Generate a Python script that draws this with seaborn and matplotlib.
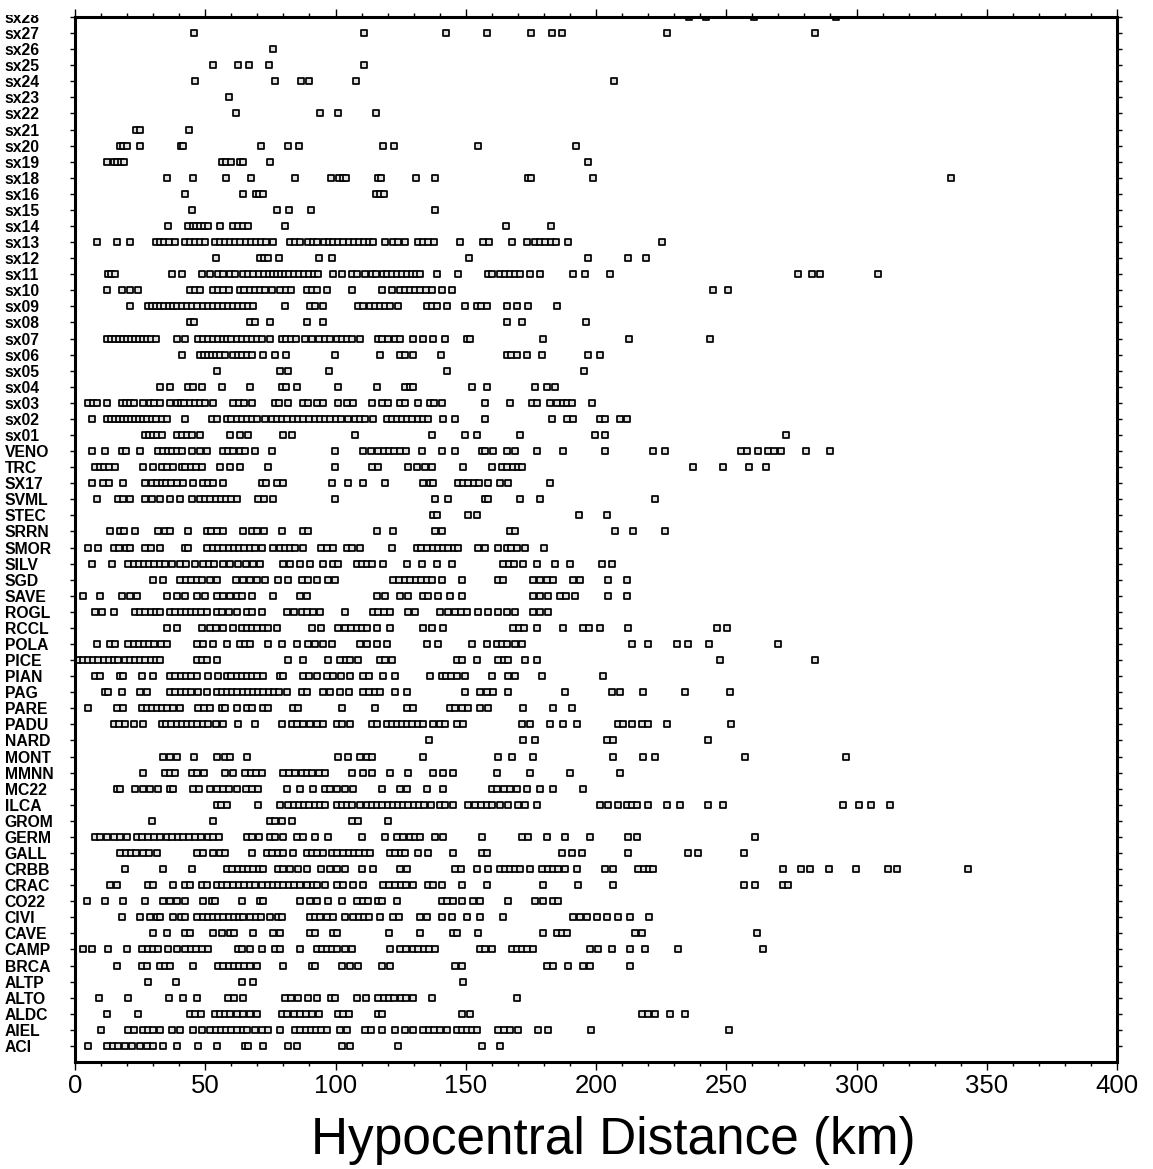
import matplotlib
matplotlib.use("Agg")
import matplotlib.pyplot as plt
from matplotlib.ticker import MultipleLocator
from matplotlib.transforms import Bbox
import seaborn as sns
import pandas as pd

# ---------------- data (hypocentral distance, km) ----------------
stations = ["ACI", "AIEL", "ALDC", "ALTO", "ALTP", "BRCA", "CAMP", "CAVE", "CIVI", "CO22",
            "CRAC", "CRBB", "GALL", "GERM", "GROM", "ILCA", "MC22", "MMNN", "MONT", "NARD",
            "PADU", "PARE", "PAG", "PIAN", "PICE", "POLA", "RCCL", "ROGL", "SAVE", "SGD",
            "SILV", "SMOR", "SRRN", "STEC", "SVML", "SX17", "TRC", "VENO",
            "sx01", "sx02", "sx03", "sx04", "sx05", "sx06", "sx07", "sx08", "sx09", "sx10",
            "sx11", "sx12", "sx13", "sx14", "sx15", "sx16", "sx18", "sx19", "sx20", "sx21",
            "sx22", "sx23", "sx24", "sx25", "sx26", "sx27", "sx28"]

d_ACI = [5.1, 12.2, 14.5, 16.5, 19.2, 22.0, 24.8, 27.5, 30.0, 33.9, 39.0, 47.3, 54.4, 65.3, 66.5,
         72.3, 81.9, 85.1, 102.4, 105.6, 124.0, 156.1, 163.2]
d_AIEL = [10.0, 20.5, 22.5, 26.2, 28.2, 30.0, 32.6, 37.1, 40.3, 45.4, 48.6, 51.8, 54.0, 56.0, 58.0,
          60.0, 62.0, 64.6, 65.9, 69.1, 71.6, 74.2, 78.7, 84.4, 86.5, 88.5, 90.5, 92.5, 94.6, 96.6,
          101.7, 104.3, 111.3, 113.5, 117.7, 122.8, 126.7, 129.9, 133.7, 136.0, 138.0, 140.0, 142.7,
          146.5, 148.5, 150.5, 152.5, 154.2, 162.5, 164.5, 167.0, 170.2, 177.8, 181.7, 198.0, 251.2]
d_ALDC = [12.2, 24.3, 44.1, 46.0, 48.5, 53.8, 55.5, 57.5, 59.5, 62.0, 64.6, 67.0, 69.7, 79.3, 81.5,
          84.0, 86.4, 88.5, 91.0, 93.5, 101.0, 103.0, 105.0, 116.4, 117.7, 148.4, 151.6, 217.5,
          220.1, 222.6, 228.4, 234.2]
d_ALTO = [9.3, 20.2, 36.2, 41.6, 47.0, 58.8, 61.0, 64.6, 80.6, 83.0, 85.7, 89.6, 92.8, 98.3, 99.8,
          108.1, 111.9, 116.4, 118.5, 120.5, 122.5, 125.0, 127.0, 129.9, 136.9, 169.5]
d_ALTP = [27.9, 38.8, 64.0, 68.5, 149.1]
d_BRCA = [16.0, 25.6, 27.5, 32.6, 34.5, 36.5, 45.4, 55.0, 57.0, 59.0, 61.0, 63.0, 65.0, 67.2, 69.7,
          80.0, 90.8, 92.0, 102.4, 105.6, 108.8, 117.7, 120.9, 145.9, 148.4, 181.1, 183.6, 189.4,
          195.1, 197.7, 213.1]
d_CAMP = [3.2, 6.4, 12.8, 19.8, 25.6, 28.0, 30.0, 32.0, 35.8, 39.0, 42.2, 44.5, 46.5, 48.6, 51.2,
          62.5, 64.0, 67.2, 71.6, 76.8, 78.7, 86.4, 92.8, 95.0, 96.6, 98.5, 100.4, 103.6, 106.2,
          120.9, 124.8, 127.0, 129.9, 131.8, 134.0, 136.0, 138.2, 155.4, 157.5, 160.0, 167.6, 169.5,
          171.5, 173.5, 176.0, 197.7, 200.9, 206.0, 213.1, 218.8, 231.6, 264.1]
d_CAVE = [30.1, 35.2, 42.2, 44.0, 53.1, 56.3, 59.5, 61.0, 68.5, 76.1, 78.7, 90.2, 92.0, 99.2, 100.4,
          120.5, 132.4, 145.2, 146.5, 154.6, 179.5, 184.9, 187.0, 188.7, 215.0, 217.5, 261.8]
d_CIVI = [17.9, 25.0, 28.8, 31.5, 32.6, 37.7, 40.5, 42.2, 46.7, 49.0, 51.0, 53.0, 55.0, 57.0, 59.0,
          61.0, 63.0, 64.6, 67.2, 69.5, 71.5, 74.8, 78.0, 79.3, 90.2, 92.0, 94.0, 96.6, 99.2, 103.6,
          106.8, 109.0, 111.0, 112.8, 117.0, 122.2, 124.5, 132.4, 135.0, 140.8, 144.6, 150.3, 155.4,
          164.4, 191.3, 194.0, 196.4, 200.2, 204.1, 208.6, 213.1, 220.5]
d_CO22 = [4.5, 11.5, 18.5, 26.9, 33.9, 36.5, 39.0, 42.2, 49.3, 52.5, 53.8, 64.0, 71.0, 72.3, 86.4,
          90.2, 92.8, 97.2, 102.4, 108.1, 110.5, 112.5, 116.5, 117.7, 123.5, 140.8, 142.8, 145.2,
          148.4, 152.9, 155.5, 166.4, 176.6, 179.8, 183.6, 185.5]
d_CRAC = [13.4, 16.0, 28.2, 30.0, 37.7, 42.2, 44.0, 48.6, 50.5, 54.4, 56.3, 58.2, 60.8, 63.0, 65.0,
          67.0, 69.0, 71.6, 74.2, 76.0, 78.0, 80.0, 82.0, 84.0, 86.4, 88.9, 91.5, 92.8, 96.0, 100.4,
          103.0, 106.8, 110.6, 118.4, 120.5, 123.0, 125.0, 127.0, 129.9, 135.6, 137.6, 140.8, 148.4,
          158.0, 179.8, 193.2, 206.7, 256.8, 261.0, 271.8, 273.7]
d_CRBB = [19.2, 33.9, 44.8, 58.2, 60.3, 62.5, 64.5, 66.5, 68.5, 70.5, 72.3, 78.0, 80.0, 82.5, 85.5,
          88.9, 94.6, 97.9, 100.5, 103.6, 110.0, 114.5, 124.8, 127.3, 145.9, 148.0, 154.2, 158.7,
          163.0, 165.0, 167.0, 169.0, 171.0, 174.7, 179.1, 181.7, 183.5, 185.5, 188.1, 192.6, 203.5,
          206.7, 216.3, 218.5, 220.5, 222.0, 271.8, 278.7, 282.2, 289.4, 299.8, 312.1, 315.5, 342.8]
d_GALL = [17.3, 19.5, 21.5, 23.5, 26.0, 28.5, 31.3, 46.7, 49.3, 53.1, 55.6, 57.5, 67.8, 73.6, 75.5,
          78.0, 80.0, 83.8, 88.9, 91.0, 93.0, 95.3, 98.5, 100.5, 103.0, 105.0, 107.0, 109.0, 111.5,
          113.2, 120.9, 123.0, 125.0, 126.8, 131.8, 135.6, 145.2, 156.1, 158.0, 186.8, 190.7, 194.5,
          212.4, 235.4, 239.3, 256.8]
d_GERM = [7.7, 9.5, 12.2, 14.8, 17.3, 19.8, 23.7, 25.6, 28.2, 30.3, 32.5, 35.5, 37.1, 39.5, 41.5,
          43.8, 46.0, 48.5, 51.0, 53.0, 55.3, 65.9, 68.0, 70.5, 74.8, 76.8, 79.9, 85.1, 87.6, 92.1,
          97.2, 110.0, 119.0, 123.5, 126.0, 128.6, 130.5, 132.4, 138.2, 141.4, 156.1, 171.5, 174.0,
          181.1, 188.1, 197.7, 212.4, 215.6, 261.0]
d_GROM = [29.4, 52.8, 74.8, 76.8, 79.3, 83.2, 106.2, 108.8, 120.3]
d_ILCA = [54.4, 56.0, 58.2, 70.4, 78.7, 81.9, 84.0, 86.0, 88.0, 90.0, 92.0, 94.0, 96.0, 100.5, 102.5,
          104.5, 106.5, 109.4, 112.0, 114.0, 116.0, 118.0, 120.0, 122.0, 124.0, 126.0, 128.0, 130.0,
          132.0, 134.0, 136.5, 140.1, 142.0, 145.2, 151.0, 153.5, 156.0, 158.0, 160.0, 163.2, 166.4,
          170.2, 172.8, 177.2, 201.5, 204.7, 208.6, 211.8, 214.0, 215.6, 220.1, 227.1, 232.2, 243.1,
          248.9, 294.8, 300.9, 305.6, 312.9]
d_MC22 = [16.0, 17.3, 23.0, 26.2, 28.8, 32.0, 36.5, 37.7, 45.4, 47.5, 51.8, 54.4, 57.0, 59.0, 62.0,
          65.5, 67.8, 70.4, 81.2, 86.4, 91.5, 96.0, 98.0, 100.4, 103.6, 106.8, 117.7, 124.8, 127.3,
          135.0, 141.4, 160.0, 162.0, 164.5, 167.0, 169.5, 173.4, 178.5, 183.6, 195.1]
d_MMNN = [26.2, 34.5, 36.5, 38.5, 44.8, 47.0, 49.5, 57.5, 60.8, 65.3, 67.5, 69.5, 71.6, 79.9, 82.0,
          84.5, 87.0, 89.0, 91.0, 93.5, 95.9, 106.2, 110.6, 113.9, 120.9, 127.9, 137.6, 141.4, 145.2,
          161.9, 174.7, 190.0, 209.2]
d_MONT = [33.9, 36.5, 39.0, 45.7, 54.4, 57.5, 59.5, 65.9, 101.0, 104.9, 109.4, 112.0, 113.9, 133.7,
          162.5, 167.6, 176.0, 206.7, 218.2, 222.7, 257.2, 296.0]
d_NARD = [136.0, 172.1, 176.6, 204.1, 206.6, 243.1]
d_PADU = [14.8, 17.0, 19.3, 22.5, 26.2, 33.3, 35.0, 37.0, 39.0, 41.0, 43.0, 45.0, 47.0, 49.0, 51.0,
          54.0, 57.0, 62.7, 69.1, 79.3, 83.2, 85.3, 87.5, 90.2, 92.8, 95.3, 100.4, 102.5, 105.6,
          113.9, 115.8, 119.6, 121.5, 123.5, 125.5, 127.5, 129.5, 131.5, 133.5, 137.6, 140.0, 142.0,
          146.5, 149.0, 171.5, 174.7, 182.4, 187.5, 192.6, 208.6, 210.5, 213.7, 217.5, 220.1, 227.1,
          251.8]
d_PARE = [5.1, 16.0, 18.5, 25.6, 27.5, 29.5, 31.5, 33.5, 35.5, 37.5, 40.3, 47.3, 49.5, 51.8, 56.3,
          57.5, 62.0, 65.9, 67.8, 72.3, 74.2, 83.8, 85.7, 102.4, 115.2, 127.3, 129.9, 144.0, 146.0,
          148.5, 151.0, 155.4, 158.7, 172.1, 183.6, 190.7]
d_PAG = [11.5, 12.8, 17.9, 25.0, 27.5, 36.5, 38.5, 40.5, 42.5, 44.5, 47.3, 50.5, 54.4, 56.3, 58.3,
         60.3, 62.3, 64.3, 66.3, 68.3, 70.3, 72.3, 74.3, 76.3, 78.5, 81.2, 87.0, 89.0, 95.3, 97.9,
         101.7, 105.0, 110.6, 113.0, 115.0, 117.0, 122.8, 127.3, 149.7, 155.4, 158.0, 160.6, 166.4,
         188.1, 206.0, 209.2, 218.2, 234.2, 251.4]
d_PIAN = [7.7, 9.6, 17.3, 18.5, 25.6, 30.0, 36.5, 38.5, 40.5, 42.5, 44.5, 46.7, 51.2, 55.0, 58.2,
          60.0, 62.0, 64.0, 66.0, 68.0, 70.0, 72.0, 78.7, 80.0, 87.6, 90.0, 92.8, 96.6, 99.0, 102.0,
          105.6, 110.6, 113.0, 118.4, 122.8, 136.3, 140.8, 142.5, 144.5, 146.5, 149.7, 160.0, 166.4,
          168.9, 179.1, 202.8]
d_PICE = [1.3, 3.0, 5.0, 7.0, 9.0, 11.0, 13.0, 15.0, 16.5, 19.2, 21.1, 23.0, 25.0, 27.0, 29.0, 31.0,
          32.6, 46.7, 48.6, 50.5, 54.4, 81.9, 87.6, 97.2, 101.7, 104.0, 105.6, 108.8, 117.0, 119.0,
          121.5, 146.5, 148.5, 154.2, 162.5, 164.5, 166.4, 172.8, 177.2, 247.6, 284.2]
d_POLA = [8.3, 13.4, 15.4, 20.5, 22.5, 24.5, 26.5, 28.5, 30.5, 33.0, 35.2, 46.7, 49.0, 53.1, 58.2,
          63.3, 65.2, 67.2, 74.2, 79.3, 85.1, 89.6, 92.0, 95.3, 98.5, 109.4, 112.0, 115.8, 119.6,
          135.0, 139.5, 152.3, 158.0, 161.9, 164.0, 166.0, 168.9, 171.5, 213.7, 220.1, 231.0, 235.4,
          243.5, 270.0]
d_RCCL = [35.2, 39.0, 48.6, 51.8, 54.0, 57.0, 60.8, 64.0, 66.0, 68.0, 70.0, 72.0, 74.0, 77.4, 90.8,
          94.6, 101.1, 103.5, 106.0, 108.1, 110.2, 112.0, 115.8, 121.0, 133.7, 136.9, 141.4, 168.3,
          170.5, 172.5, 177.2, 187.5, 195.1, 197.5, 201.5, 212.4, 246.3, 250.2]
d_ROGL = [7.7, 10.2, 14.8, 23.0, 25.0, 27.0, 29.0, 31.0, 32.6, 36.5, 38.5, 40.5, 42.5, 44.5, 46.5,
          48.5, 50.5, 54.4, 56.3, 59.0, 62.0, 65.9, 67.8, 71.6, 81.2, 84.0, 87.0, 89.0, 91.5, 94.0,
          103.6, 114.5, 116.5, 118.5, 120.8, 128.0, 130.5, 140.1, 143.3, 146.0, 148.0, 150.3, 154.8,
          158.7, 162.5, 165.7, 168.9, 176.0, 178.5, 181.7]
d_SAVE = [3.2, 9.6, 17.9, 21.1, 23.7, 35.2, 39.0, 42.2, 46.7, 49.9, 54.4, 57.0, 59.5, 62.0, 64.0,
          67.8, 76.1, 86.4, 89.0, 115.8, 119.0, 124.8, 127.9, 133.7, 135.6, 139.5, 144.0, 148.4,
          176.0, 178.5, 181.7, 186.2, 188.5, 191.9, 204.7, 211.8]
d_SGD = [30.0, 33.9, 40.3, 42.5, 44.5, 46.7, 48.6, 52.0, 54.5, 61.9, 64.5, 67.0, 69.8, 72.9, 78.0,
         81.9, 87.0, 89.6, 92.8, 97.2, 99.8, 122.2, 124.5, 126.8, 128.6, 131.0, 133.0, 135.0, 136.9,
         140.8, 148.4, 162.5, 164.4, 176.0, 178.5, 181.1, 183.6, 191.3, 193.8, 204.7, 211.8]
d_SILV = [6.4, 14.1, 20.5, 22.5, 24.5, 26.5, 28.5, 30.5, 32.5, 34.5, 37.1, 40.3, 42.5, 46.1, 49.3,
          51.5, 53.5, 56.9, 59.5, 62.5, 65.5, 68.5, 71.0, 80.0, 82.5, 86.4, 90.2, 95.3, 99.2, 101.1,
          108.1, 110.0, 112.0, 114.0, 118.4, 127.6, 133.1, 138.8, 144.6, 164.4, 166.5, 168.5, 172.1,
          177.2, 184.3, 190.0, 202.2, 206.0]
d_SMOR = [5.1, 8.9, 14.8, 17.0, 19.5, 21.1, 26.9, 29.0, 32.6, 42.2, 43.5, 50.5, 53.1, 55.0, 57.0,
          59.0, 61.0, 63.0, 65.0, 67.0, 69.0, 71.6, 76.1, 78.7, 80.5, 82.5, 84.5, 87.6, 94.6, 96.6,
          99.2, 104.3, 106.5, 109.4, 121.6, 131.2, 133.0, 135.0, 137.6, 139.5, 141.4, 143.3, 145.3,
          147.2, 154.8, 157.4, 162.5, 165.7, 167.5, 169.5, 172.8, 180.0]
d_SRRN = [13.4, 17.3, 19.0, 23.0, 32.0, 34.5, 36.5, 43.5, 50.5, 52.3, 54.5, 56.9, 64.6, 67.8, 70.0,
          72.5, 79.3, 87.6, 89.5, 115.8, 122.2, 138.2, 140.8, 167.0, 168.9, 207.3, 214.3, 226.5]
d_STEC = [137.6, 138.8, 151.0, 154.2, 193.5, 204.4]
d_SVML = [8.3, 16.6, 18.5, 21.1, 26.9, 29.4, 32.6, 36.5, 40.3, 44.8, 48.0, 50.0, 52.0, 54.0, 56.0,
          58.0, 60.0, 62.0, 70.4, 72.5, 76.1, 99.8, 138.2, 143.3, 157.4, 158.7, 170.8, 178.5, 222.6]
d_SX17 = [6.4, 10.8, 13.0, 18.5, 26.9, 29.5, 31.3, 33.3, 35.0, 37.0, 39.0, 41.5, 45.2, 49.2, 51.0,
          53.0, 56.9, 71.6, 73.5, 77.5, 79.9, 98.5, 104.9, 110.6, 118.9, 133.7, 136.3, 137.6, 147.2,
          149.0, 151.0, 153.0, 155.0, 158.7, 163.2, 166.4, 182.3]
d_TRC = [7.7, 9.5, 11.3, 13.1, 15.3, 26.2, 30.1, 33.3, 35.5, 37.5, 40.9, 42.2, 44.5, 46.5, 48.6,
         55.6, 59.5, 63.3, 74.2, 99.8, 113.9, 116.4, 128.0, 131.2, 134.4, 137.0, 149.1, 160.0,
         163.8, 166.0, 168.0, 170.2, 171.5, 237.1, 248.6, 258.8, 265.3]
d_VENO = [6.4, 11.5, 17.9, 19.5, 25.1, 32.0, 33.8, 35.6, 37.4, 39.2, 41.0, 44.8, 48.0, 50.5, 56.9,
          58.8, 60.8, 63.5, 65.3, 69.1, 75.5, 99.8, 110.6, 113.5, 116.4, 118.5, 120.5, 122.5, 124.8,
          127.0, 133.1, 140.8, 145.9, 156.1, 157.5, 160.6, 165.7, 168.9, 177.2, 187.5, 203.5, 222.0,
          226.5, 255.5, 258.0, 262.0, 266.0, 268.5, 271.0, 280.5, 290.0]
d_sx01 = [26.9, 28.5, 30.0, 31.5, 33.5, 39.0, 41.0, 43.0, 45.0, 47.9, 59.5, 63.5, 66.5, 80.0, 83.2,
          107.5, 136.9, 149.7, 154.2, 170.8, 199.6, 203.5, 272.9]
d_sx02 = [6.4, 12.2, 14.0, 15.5, 17.0, 18.5, 20.0, 21.5, 23.0, 24.5, 26.0, 27.5, 29.5, 31.0, 33.5,
          35.2, 42.2, 52.5, 54.4, 58.2, 60.0, 62.0, 64.0, 66.0, 68.0, 70.0, 72.9, 75.5, 77.5, 79.5,
          81.5, 83.5, 85.5, 87.6, 90.0, 92.0, 94.0, 96.0, 98.0, 100.0, 102.0, 104.9, 107.5, 109.5,
          111.5, 114.5, 119.6, 121.5, 123.5, 125.5, 127.5, 129.5, 131.5, 133.5, 135.6, 141.4, 145.9,
          157.4, 183.0, 188.7, 191.3, 201.5, 203.5, 209.2, 212.0]
d_sx03 = [5.1, 7.0, 8.5, 12.2, 17.9, 19.5, 21.0, 22.5, 26.2, 28.8, 30.5, 32.5, 36.4, 39.0, 40.5,
          42.0, 44.0, 46.0, 48.0, 50.0, 53.1, 60.8, 63.0, 65.0, 67.8, 76.8, 78.5, 81.9, 87.6, 89.5,
          93.0, 95.3, 101.1, 104.3, 106.8, 113.9, 117.7, 120.0, 124.8, 126.5, 131.8, 136.3, 138.0,
          140.8, 157.4, 167.0, 175.3, 177.2, 182.4, 185.0, 187.5, 189.0, 190.7, 198.3]
d_sx04 = [32.6, 36.5, 43.5, 45.3, 48.6, 56.3, 67.2, 79.3, 81.0, 85.1, 101.1, 116.1, 126.7, 128.5,
          129.9, 152.3, 158.0, 176.6, 181.1, 184.3]
d_sx05 = [54.4, 78.6, 81.6, 97.6, 142.7, 195.5]
d_sx06 = [41.0, 48.0, 49.5, 51.0, 52.5, 54.0, 55.5, 57.5, 60.8, 62.5, 64.2, 66.0, 67.8, 72.3, 76.8,
          81.0, 99.8, 117.0, 124.8, 126.5, 129.9, 140.4, 165.7, 167.5, 169.5, 173.4, 179.1, 197.1,
          201.5]
d_sx07 = [12.2, 13.8, 15.5, 17.0, 18.5, 20.0, 21.5, 23.0, 24.5, 26.0, 27.5, 29.0, 31.0, 39.0, 42.2,
          47.3, 49.0, 51.0, 53.0, 55.0, 57.0, 58.5, 60.0, 62.0, 64.0, 66.0, 68.0, 69.7, 71.6, 74.8,
          79.3, 81.0, 83.0, 85.0, 88.3, 90.8, 93.5, 96.0, 98.0, 100.5, 102.5, 104.5, 106.5, 109.4,
          116.4, 118.0, 120.0, 122.7, 124.8, 129.9, 133.7, 137.6, 142.0, 150.5, 151.8, 179.5, 212.8,
          243.8]
d_sx08 = [44.3, 45.5, 67.2, 69.1, 74.8, 88.9, 95.3, 165.7, 171.5, 196.0]
d_sx09 = [21.1, 28.2, 29.5, 31.0, 32.5, 34.0, 36.0, 37.5, 39.0, 41.0, 43.0, 45.0, 47.0, 49.0, 51.0,
          53.0, 55.0, 57.0, 58.8, 60.5, 62.5, 64.5, 66.5, 68.5, 80.6, 90.2, 92.0, 95.3, 108.8, 110.6,
          113.2, 115.0, 117.0, 119.0, 121.0, 124.0, 135.0, 137.0, 139.0, 142.7, 149.7, 154.2, 156.0,
          158.0, 165.7, 169.5, 174.0, 184.9]
d_sx10 = [12.2, 17.9, 21.1, 24.3, 44.1, 46.0, 48.0, 53.1, 55.0, 57.0, 59.0, 63.3, 65.0, 67.0, 69.0,
          71.0, 73.0, 75.5, 78.7, 81.0, 83.0, 89.0, 91.0, 93.0, 96.6, 106.2, 117.7, 121.6, 124.8,
          126.7, 128.5, 130.5, 132.5, 134.6, 136.9, 140.8, 144.6, 245.0, 250.8]
d_sx11 = [12.5, 14.0, 15.5, 37.1, 41.0, 48.6, 51.8, 55.0, 57.0, 59.5, 61.5, 64.6, 66.5, 68.5, 70.5,
          72.5, 74.5, 76.0, 77.5, 79.0, 80.5, 82.0, 84.0, 86.0, 88.0, 90.0, 91.8, 93.4, 99.2, 102.4,
          106.2, 108.1, 111.3, 113.9, 115.5, 118.4, 119.6, 121.5, 123.5, 125.5, 127.5, 129.5, 131.0,
          132.4, 138.8, 147.2, 158.7, 160.0, 163.2, 165.0, 167.0, 169.0, 170.8, 174.7, 178.5, 191.3,
          195.8, 205.4, 277.5, 283.0, 286.0, 308.3]
d_sx12 = [54.0, 71.0, 72.6, 74.2, 78.4, 93.8, 98.5, 151.4, 197.1, 212.4, 219.2]
d_sx13 = [8.6, 16.3, 21.1, 31.1, 32.6, 34.0, 36.0, 38.4, 42.2, 44.0, 46.0, 48.0, 49.9, 53.7, 55.5,
          57.5, 59.5, 61.5, 63.5, 65.5, 67.5, 69.5, 71.5, 73.5, 76.1, 82.5, 84.5, 86.4, 89.6, 91.2,
          93.0, 95.5, 97.5, 99.0, 101.0, 103.0, 105.0, 107.0, 109.0, 111.0, 113.0, 114.5, 119.0,
          122.2, 124.0, 126.5, 131.8, 133.5, 135.5, 137.8, 147.8, 156.7, 158.8, 167.6, 173.4, 176.6,
          178.6, 180.6, 182.6, 184.6, 189.4, 225.2]
d_sx14 = [35.6, 43.5, 45.2, 46.6, 48.0, 49.4, 51.0, 55.6, 60.8, 62.6, 64.4, 66.6, 80.6, 165.3, 182.6]
d_sx15 = [45.0, 77.7, 82.0, 90.6, 138.1]
d_sx16 = [42.2, 64.6, 69.3, 70.8, 72.3, 115.6, 117.2, 118.7]
d_sx18 = [35.2, 45.2, 58.1, 67.4, 84.6, 98.1, 101.5, 102.8, 104.0, 116.5, 117.6, 130.9, 138.2, 174.0,
          175.0, 198.7, 336.3]
d_sx19 = [12.2, 15.0, 16.3, 17.6, 19.0, 56.3, 58.0, 60.0, 63.5, 64.6, 75.0, 197.0]
d_sx20 = [17.3, 18.5, 19.8, 25.1, 40.6, 41.6, 71.4, 81.6, 86.1, 118.4, 122.6, 154.6, 192.2]
d_sx21 = [23.4, 24.8, 43.6]
d_sx22 = [61.9, 93.9, 101.1, 115.5]
d_sx23 = [59.1]
d_sx24 = [45.9, 76.8, 86.6, 90.0, 107.9, 207.0]
d_sx25 = [52.8, 62.4, 66.9, 74.6, 111.1]
d_sx26 = [75.9]
d_sx27 = [45.8, 111.1, 142.4, 158.0, 174.9, 183.0, 187.0, 227.4, 284.0]
d_sx28 = [235.7, 242.2, 260.6, 292.0]

x_ticks = [0, 50, 100, 150, 200, 250, 300, 350, 400]
x_label = "Hypocentral Distance (km)"

station_values = [d_ACI, d_AIEL, d_ALDC, d_ALTO, d_ALTP, d_BRCA, d_CAMP, d_CAVE, d_CIVI, d_CO22,
                  d_CRAC, d_CRBB, d_GALL, d_GERM, d_GROM, d_ILCA, d_MC22, d_MMNN, d_MONT, d_NARD,
                  d_PADU, d_PARE, d_PAG, d_PIAN, d_PICE, d_POLA, d_RCCL, d_ROGL, d_SAVE, d_SGD,
                  d_SILV, d_SMOR, d_SRRN, d_STEC, d_SVML, d_SX17, d_TRC, d_VENO,
                  d_sx01, d_sx02, d_sx03, d_sx04, d_sx05, d_sx06, d_sx07, d_sx08, d_sx09, d_sx10,
                  d_sx11, d_sx12, d_sx13, d_sx14, d_sx15, d_sx16, d_sx18, d_sx19, d_sx20, d_sx21,
                  d_sx22, d_sx23, d_sx24, d_sx25, d_sx26, d_sx27, d_sx28]

rows = []
for i, (name, vals) in enumerate(zip(stations, station_values)):
    for v in vals:
        rows.append({"station": name, "pos": i + 1, "distance": v})
df = pd.DataFrame(rows)

# ---------------- figure ----------------
sns.set_theme(style="white")
plt.rcParams["font.family"] = ["Liberation Sans", "DejaVu Sans"]
plt.rcParams["text.color"] = "black"
plt.rcParams["axes.labelcolor"] = "black"
plt.rcParams["xtick.color"] = "black"
plt.rcParams["ytick.color"] = "black"

W, H = 1153, 1169
fig = plt.figure(figsize=(W / 100, H / 100), dpi=100)
ax = fig.add_axes([75 / W, 1 - 1062 / H, (1117 - 75) / W, (1062 - 17) / H])

sns.scatterplot(data=df, x="distance", y="pos", marker="s", s=15, color="#e2e2e2",
                edgecolor="black", linewidth=1.25, legend=False, ax=ax)

ax.set_xlim(0, 400)
ax.set_ylim(0, len(stations))
ax.set_xticks(x_ticks)
ax.set_xticklabels([str(t) for t in x_ticks], fontsize=18.5, color="black")
ax.xaxis.set_minor_locator(MultipleLocator(10))
ax.set_yticks(range(1, len(stations) + 1))
ax.set_yticklabels(stations, fontsize=11.3, fontweight="bold", ha="left", color="black")

for sp in ax.spines.values():
    sp.set_linewidth(2.2)
    sp.set_color("black")

ax.tick_params(axis="x", which="major", direction="out", length=5.5, width=1,
               top=True, bottom=True, pad=3, colors="black")
ax.tick_params(axis="x", which="minor", direction="out", length=3, width=1,
               top=True, bottom=True)
ax.tick_params(axis="y", which="major", direction="out", length=3.5, width=1,
               left=True, right=True, pad=47, colors="black")

ax.set_xlabel(x_label, fontsize=37, labelpad=2, color="black")
ax.xaxis.set_label_coords(0.517, -0.052)
ax.set_ylabel("")
ax.grid(False)

# the uppermost station name is cut by the top edge in the reference
top_label = ax.get_yticklabels()[-1]
top_label.set_clip_box(Bbox.from_extents(0, 0, W, H - 15))
top_label.set_clip_on(True)

fig.savefig("out.png", dpi=100, facecolor="white")
